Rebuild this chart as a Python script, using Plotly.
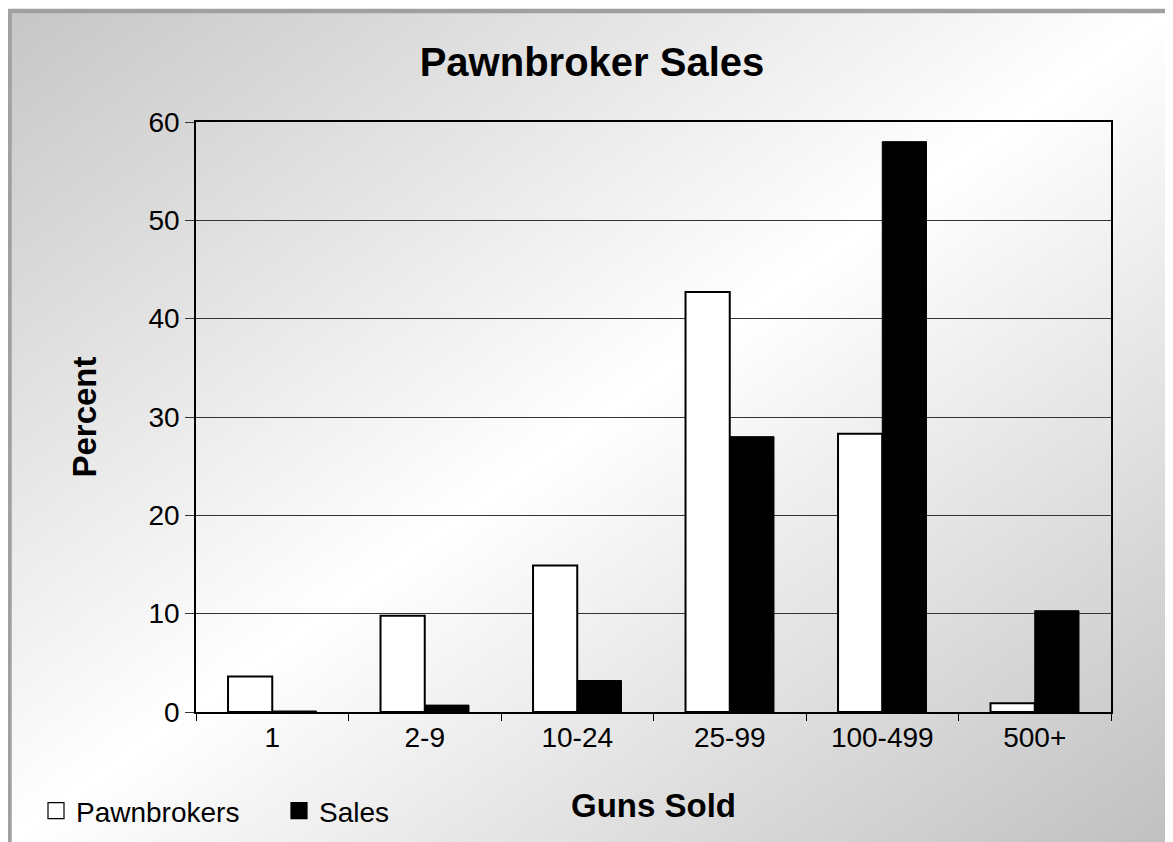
import base64

import plotly.graph_objects as go

categories = ["1", "2-9", "10-24", "25-99", "100-499", "500+"]
pawnbrokers = [3.6, 9.8, 14.9, 42.7, 28.3, 0.9]
sales = [0.1, 0.7, 3.2, 28.0, 58.0, 10.3]

# the page body has an 8px margin, so the figure is sized to fit the window
OFF = 8
W, H = 1173 - OFF, 842 - OFF
M_L, M_R, M_T, M_B = 196 - OFF, 62, 122 - OFF, 130
PLOT_W = W - M_L - M_R
PLOT_H = H - M_T - M_B
FONT = "Liberation Sans, Arial, sans-serif"


def px_x(page_x: float) -> float:
    return (page_x - OFF - M_L) / PLOT_W


def px_y(page_y: float) -> float:
    return (H - M_B - (page_y - OFF)) / PLOT_H


def gradient_uri(width: int, height: int) -> str:
    svg = (
        f'<svg xmlns="http://www.w3.org/2000/svg" width="{width}" height="{height}" '
        f'viewBox="0 0 {width} {height}" preserveAspectRatio="none">'
        '<defs><linearGradient id="g" x1="0" y1="0" x2="1" y2="1">'
        '<stop offset="0" stop-color="#c6c6c6"/>'
        '<stop offset="0.5" stop-color="#ffffff"/>'
        '<stop offset="1" stop-color="#c0c0c0"/>'
        "</linearGradient></defs>"
        f'<rect width="{width}" height="{height}" fill="url(#g)"/></svg>'
    )
    return "data:image/svg+xml;base64," + base64.b64encode(svg.encode()).decode()


fig = go.Figure()
fig.add_trace(
    go.Bar(
        x=categories,
        y=pawnbrokers,
        name="Pawnbrokers",
        legendgroup="p",
        showlegend=False,
        marker={"color": "white", "line": {"color": "black", "width": 2}},
    )
)
fig.add_trace(
    go.Bar(
        x=categories,
        y=sales,
        name="Sales",
        legendgroup="s",
        showlegend=False,
        marker={"color": "black", "line": {"color": "black", "width": 1}},
    )
)
# legend entries with larger square swatches
for name, group, fill in (("Pawnbrokers", "p", "white"), ("Sales", "s", "black")):
    fig.add_trace(
        go.Scatter(
            x=[None],
            y=[None],
            mode="markers",
            name=name,
            legendgroup=group,
            marker={"symbol": "square", "size": 16, "color": fill, "line": {"color": "black", "width": 1.2}},
        )
    )

bg_x0, bg_y0 = OFF, OFF + 1
bg_w, bg_h = 1173 - bg_x0, 842 - bg_y0
fig.update_layout(
    width=W,
    height=H,
    margin={"l": M_L, "r": M_R, "t": M_T, "b": M_B, "autoexpand": False},
    paper_bgcolor="white",
    plot_bgcolor="rgba(0,0,0,0)",
    font={"family": FONT, "color": "black", "size": 28},
    title={
        "text": "<b>Pawnbroker Sales</b>",
        "font": {"size": 40, "family": FONT},
        "x": (592 - OFF) / W,
        "xanchor": "center",
        "y": 1 - (62 - OFF) / H,
        "yanchor": "middle",
    },
    barmode="group",
    bargap=0.42,
    bargroupgap=0,
    showlegend=True,
    legend={
        "orientation": "h",
        "x": px_x(36),
        "y": px_y(811),
        "xanchor": "left",
        "yanchor": "middle",
        "bgcolor": "rgba(0,0,0,0)",
        "font": {"size": 28},
        "entrywidth": 198,
        "itemsizing": "trace",
    },
    xaxis={
        "type": "category",
        "tickson": "boundaries",
        "ticks": "outside",
        "ticklen": 7,
        "tickcolor": "black",
        "showline": True,
        "linecolor": "black",
        "linewidth": 1.5,
        "mirror": True,
        "showgrid": False,
        "title": {"text": "<b>Guns Sold</b>", "font": {"size": 33}, "standoff": 42},
    },
    yaxis={
        "range": [0, 60],
        "dtick": 10,
        "ticks": "outside",
        "ticklen": 9,
        "tickcolor": "#333",
        "showline": True,
        "linecolor": "black",
        "linewidth": 1.5,
        "mirror": True,
        "gridcolor": "#333",
        "gridwidth": 1,
        "zeroline": False,
        "title": {"text": "<b>Percent</b>", "font": {"size": 33}, "standoff": 42},
    },
    images=[
        {
            "source": gradient_uri(bg_w, bg_h),
            "xref": "paper",
            "yref": "paper",
            "x": px_x(bg_x0),
            "y": px_y(bg_y0),
            "sizex": bg_w / PLOT_W,
            "sizey": bg_h / PLOT_H,
            "xanchor": "left",
            "yanchor": "top",
            "sizing": "stretch",
            "layer": "below",
        }
    ],
    shapes=[
        {
            "type": "rect",
            "xref": "paper",
            "yref": "paper",
            "x0": px_x(OFF + 1.5),
            "y0": px_y(870),
            "x1": px_x(1170.5),
            "y1": px_y(11),
            "line": {"color": "#a0a0a0", "width": 4.5},
            "layer": "below",
        }
    ],
)

fig.write_html("out.html")
